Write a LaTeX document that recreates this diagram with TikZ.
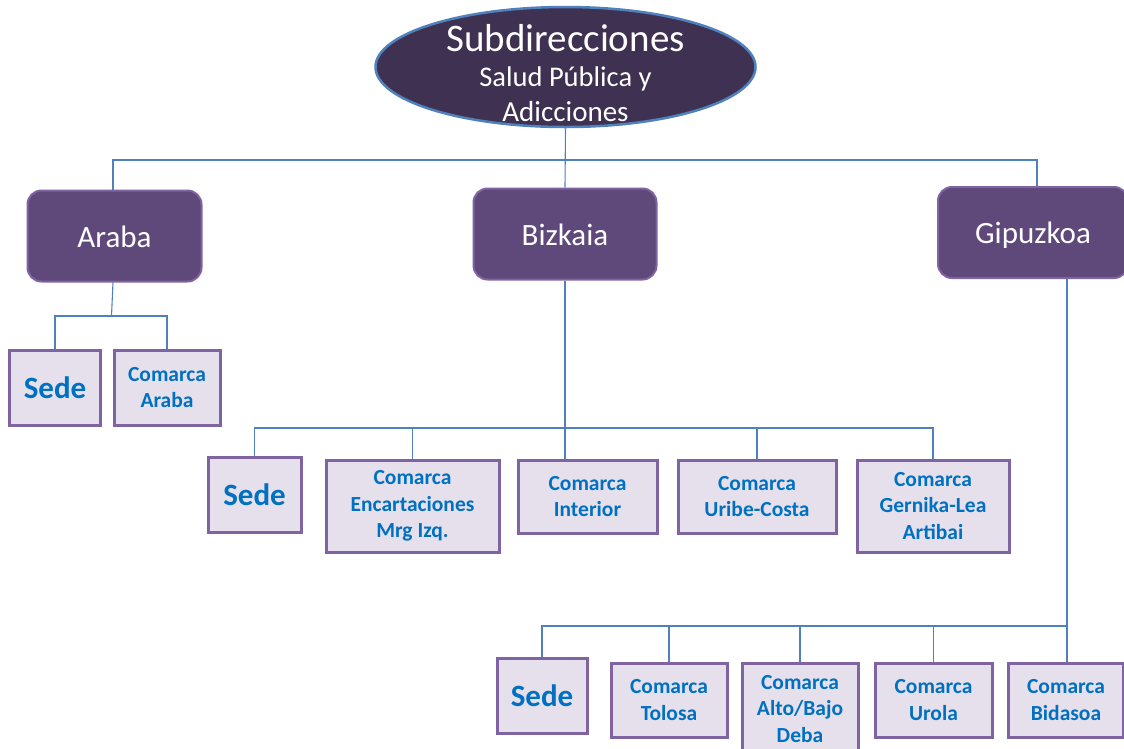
\documentclass[tikz,border=0pt]{standalone}
\usepackage{fontspec}
\setmainfont{Carlito}
\usetikzlibrary{shapes.geometric,calc}
\definecolor{ellfill}{HTML}{3F3151}
\definecolor{ellline}{HTML}{4F81BD}
\definecolor{lvfill}{HTML}{5F497A}
\definecolor{lvline}{HTML}{8064A2}
\definecolor{chfill}{HTML}{E5E0EC}
\definecolor{chtext}{HTML}{0070C0}
\definecolor{conncol}{HTML}{4F81BD}
\tikzset{
  topell/.style={ellipse, draw=ellline, line width=2.5pt, fill=ellfill, text=white, minimum width=380pt, minimum height=120pt, inner sep=0pt},
  lvbox/.style={rectangle, rounded corners=14pt, draw=lvline, line width=2pt, fill=lvfill, text=white, font=\fontsize{31}{36}\selectfont, text height=24pt, text depth=2pt, minimum height=91pt, inner sep=0pt},
  chbox/.style={rectangle, draw=lvline, line width=3pt, fill=chfill, text=chtext, font=\bfseries\fontsize{21.5}{26.5}\selectfont, align=center, inner sep=0pt},
  sedebox/.style={chbox, font=\bfseries\fontsize{31}{34}\selectfont},
  conn/.style={draw=conncol, line width=1.1pt}
}
\begin{document}
\begin{tikzpicture}[x=1pt,y=-1pt]
\useasboundingbox (0,0) rectangle (1124,748);
\fill[white] (0,0) rectangle (1124,748);
\coordinate (tj) at (565,160);
\coordinate (aj) at (113,316);
\coordinate (bj) at (565,428);
\coordinate (gj) at (1067,626);
% nodes
\node[topell] (top) at (565.5,67) {\raisebox{-9pt}[0pt][0pt]{\makebox[0pt]{\parbox{320pt}{\centering\fontsize{29}{35}\selectfont{\fontsize{39}{40}\selectfont Subdirecciones}\\{\fontsize{28.5}{35}\selectfont Salud Pública y}\\Adicciones}}}};
\node[lvbox, minimum width=174pt] (araba) at (114.5,236) {Araba};
\node[lvbox, minimum width=183pt] (bizkaia) at (565,234) {Bizkaia};
\node[lvbox, minimum width=190pt] (gipuzkoa) at (1033,232.5) {Gipuzkoa};
% Araba children
\node[sedebox, minimum width=91pt, minimum height=75pt] (asede) at (55,387.5) {Sede};
\node[chbox, minimum width=106pt, minimum height=75pt] (acom) at (167,387.5) {Comarca\\Araba};
% Bizkaia children
\node[sedebox, minimum width=93pt, minimum height=75pt] (bsede) at (254.5,494.5) {Sede};
\node[chbox, minimum width=173pt, minimum height=92pt] (benc) at (412.5,506) {Comarca\\Encartaciones\\Mrg Izq.};
\node[chbox, minimum width=139pt, minimum height=73pt] (bint) at (587.5,496.5) {Comarca\\Interior};
\node[chbox, minimum width=158pt, minimum height=73pt] (buri) at (757,496.5) {Comarca\\Uribe-Costa};
\node[chbox, minimum width=152pt, minimum height=92pt] (bger) at (933,506) {Comarca\\Gernika-Lea\\Artibai};
% Gipuzkoa children
\node[sedebox, minimum width=90pt, minimum height=75pt] (gsede) at (542,695.5) {Sede};
\node[chbox, minimum width=116pt, minimum height=74pt] (gtol) at (669,700) {Comarca\\Tolosa};
\node[chbox, minimum width=116pt, minimum height=92pt] (gdeb) at (800,709) {Comarca\\Alto/Bajo\\Deba};
\node[chbox, minimum width=117pt, minimum height=74pt] (guro) at (933.5,700) {Comarca\\Urola};
\node[chbox, minimum width=115pt, minimum height=74pt] (gbid) at (1066,700) {Comarca\\Bidasoa};
% connectors
\draw[conn] (top.south) -- (bizkaia.north);
\draw[conn] ([xshift=-1.5pt]araba.north) |- (tj) -| ([xshift=4pt]gipuzkoa.north);
\draw[conn] ([xshift=-1.5pt]araba.south) -- ([xshift=-1.5pt]aj);
\draw[conn] (asede.north) |- (aj) -| (acom.north);
\draw[conn] (bizkaia.south) -- ([xshift=-22.5pt]bint.north);
\draw[conn] (bsede.north) |- (bj) -| (bger.north);
\draw[conn] (benc.north) -- (benc.north |- bj);
\draw[conn] (buri.north) -- (buri.north |- bj);
\draw[conn] ([xshift=34pt]gipuzkoa.south) -- ([xshift=1pt]gbid.north);
\draw[conn] (gsede.north) |- (gj);
\draw[conn] (gtol.north) -- (gtol.north |- gj);
\draw[conn] (gdeb.north) -- (gdeb.north |- gj);
\draw[conn] (guro.north) -- (guro.north |- gj);
\end{tikzpicture}
\end{document}
